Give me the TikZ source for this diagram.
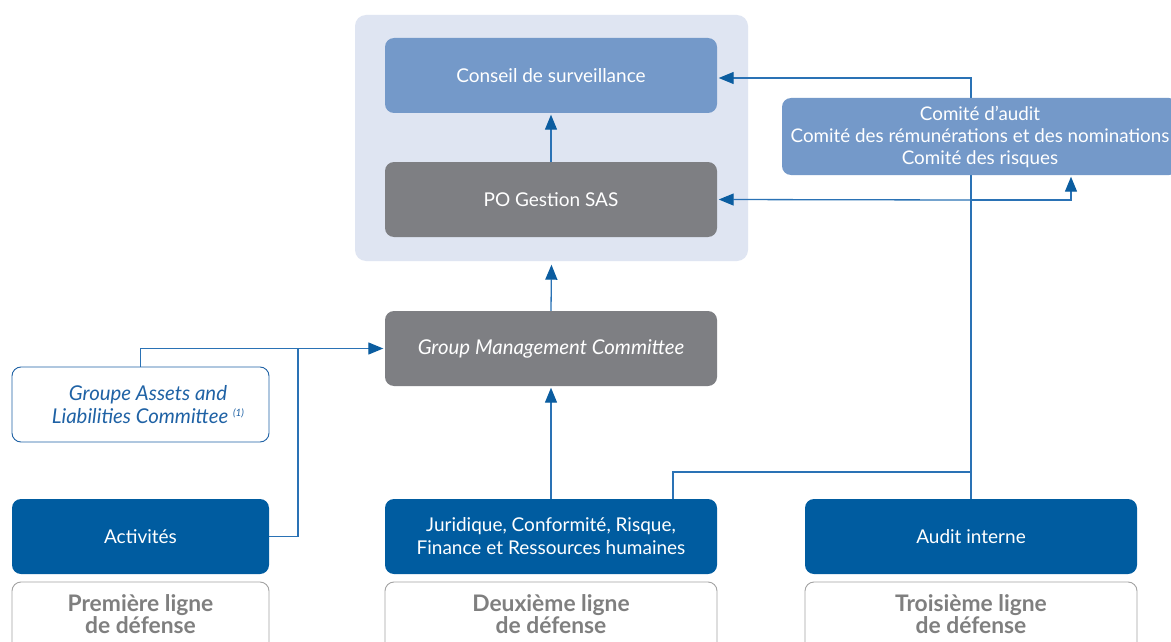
\documentclass[tikz,border=0pt]{standalone}
\usepackage{fontspec}
\setmainfont{Lato}
\usetikzlibrary{arrows.meta}
\definecolor{bglight}{HTML}{DFE5F2}
\definecolor{midblue}{HTML}{7499C9}
\definecolor{boxgray}{HTML}{7E7F83}
\definecolor{darkblue}{HTML}{005CA0}
\definecolor{linecol}{HTML}{2A72B5}
\definecolor{tipcol}{HTML}{0B5DA0}
\definecolor{labgray}{HTML}{A3A3A3}
\definecolor{labtext}{HTML}{7F7F7F}
\definecolor{alcoblue}{HTML}{1F62A5}
\pgfdeclarelayer{back}
\pgfdeclarelayer{lines}
\pgfsetlayers{back,lines,main}
\tikzset{
  basebox/.style={rounded corners=9pt, minimum width=332pt, minimum height=75pt, inner sep=0pt, align=center, text=white, font=\fontsize{19}{23}\selectfont},
  lightbox/.style={basebox, fill=midblue},
  graybox/.style={basebox, fill=boxgray},
  darkbox/.style={basebox, fill=darkblue},
  labbox/.style={rounded corners=9pt, draw=labgray, line width=0.9pt, fill=white, inner sep=0pt},
  labtxt/.style={align=center, text=labtext, font=\bfseries\fontsize{22.8}{21.6}\selectfont},
  wire/.style={draw=linecol, line width=1.3pt},
  conn/.style={wire, -{Triangle[length=15pt,width=12pt,color=tipcol]}, shorten >=1.5pt},
}
\begin{document}
\begin{tikzpicture}[x=1pt,y=-1pt]
\useasboundingbox (0,0) rectangle (1171,642);
\clip (0,0) rectangle (1171,642);

% background group
\begin{pgfonlayer}{back}
\fill[white] (0,0) rectangle (1171,642);
\node[fill=bglight, rounded corners=11pt, minimum width=393pt, minimum height=246pt, inner sep=0pt] (bg) at (551.5,138) {};
\end{pgfonlayer}

\node[lightbox] (cons) at (551,75.5) {Conseil de surveillance};
\node[graybox] (po) at (551,199.5) {PO Gestion SAS};
\node[graybox, font=\itshape\fontsize{20.4}{23}\selectfont] (gmc) at (551,348.5) {Group Management Committee};
\node[lightbox, minimum width=396pt, minimum height=77pt, font=\fontsize{18.8}{22}\selectfont] (com) at (980,136.5) {Comité d’audit\\Comité des rémunérations et des nominations\\Comité des risques};

\node[rounded corners=9pt, draw=alcoblue, line width=0.9pt, fill=white, minimum width=257pt, minimum height=75pt, inner sep=0pt] (alco) at (140.5,404.5) {};
\node[align=center, text=alcoblue, font=\itshape\fontsize{20.4}{23}\selectfont, inner sep=0pt] (alcotext) at (148,404.5) {Groupe Assets and\\Liabilities Committee {\fontsize{10}{10}\selectfont\raisebox{7pt}{(1)}}};

\node[darkbox, minimum width=257pt] (act) at (140.5,536.5) {Activités};
\node[darkbox] (jur) at (551,536.5) {Juridique, Conformité, Risque,\\Finance et Ressources humaines};
\node[darkbox] (aud) at (971,536.5) {Audit interne};

% line-of-defence labels (bottom cut by the page edge)
\node[labbox, minimum width=257pt, minimum height=80pt] (lab1) at (140.5,622) {};
\node[labbox, minimum width=332pt, minimum height=80pt] (lab2) at (551,622) {};
\node[labbox, minimum width=332pt, minimum height=80pt] (lab3) at (971,622) {};
\node[labtxt] (t1) at (140.5,614) {Première ligne\\de défense};
\node[labtxt] (t2) at (551,614) {Deuxième ligne\\de défense};
\node[labtxt] (t3) at (971,614) {Troisième ligne\\de défense};

% connectors
\coordinate (ja) at (298,348.5);
\coordinate (jj) at (673,472);
\coordinate (jk) at (971,472);
\coordinate (jp) at (971,200);
\coordinate (jc) at (1071,0);
\begin{pgfonlayer}{lines}
\draw[conn] (po.north) -- (cons.south);
\draw[conn] (gmc.north) -- ([yshift=-2pt]bg.south);
\draw[conn] (jur.north) -- (gmc.south);
\draw[conn] (alco.north) |- (gmc.west);
\draw[wire] (act.east) -| (ja);
\draw[wire] (jur.north -| jj) |- (jk);
\draw[conn] (aud.north) |- ([yshift=-2.5pt]cons.east);
\draw[conn] (jp) -- (po.east);
\draw[conn] (jp) -| (jc |- com.south);
\end{pgfonlayer}
\end{tikzpicture}
\end{document}
